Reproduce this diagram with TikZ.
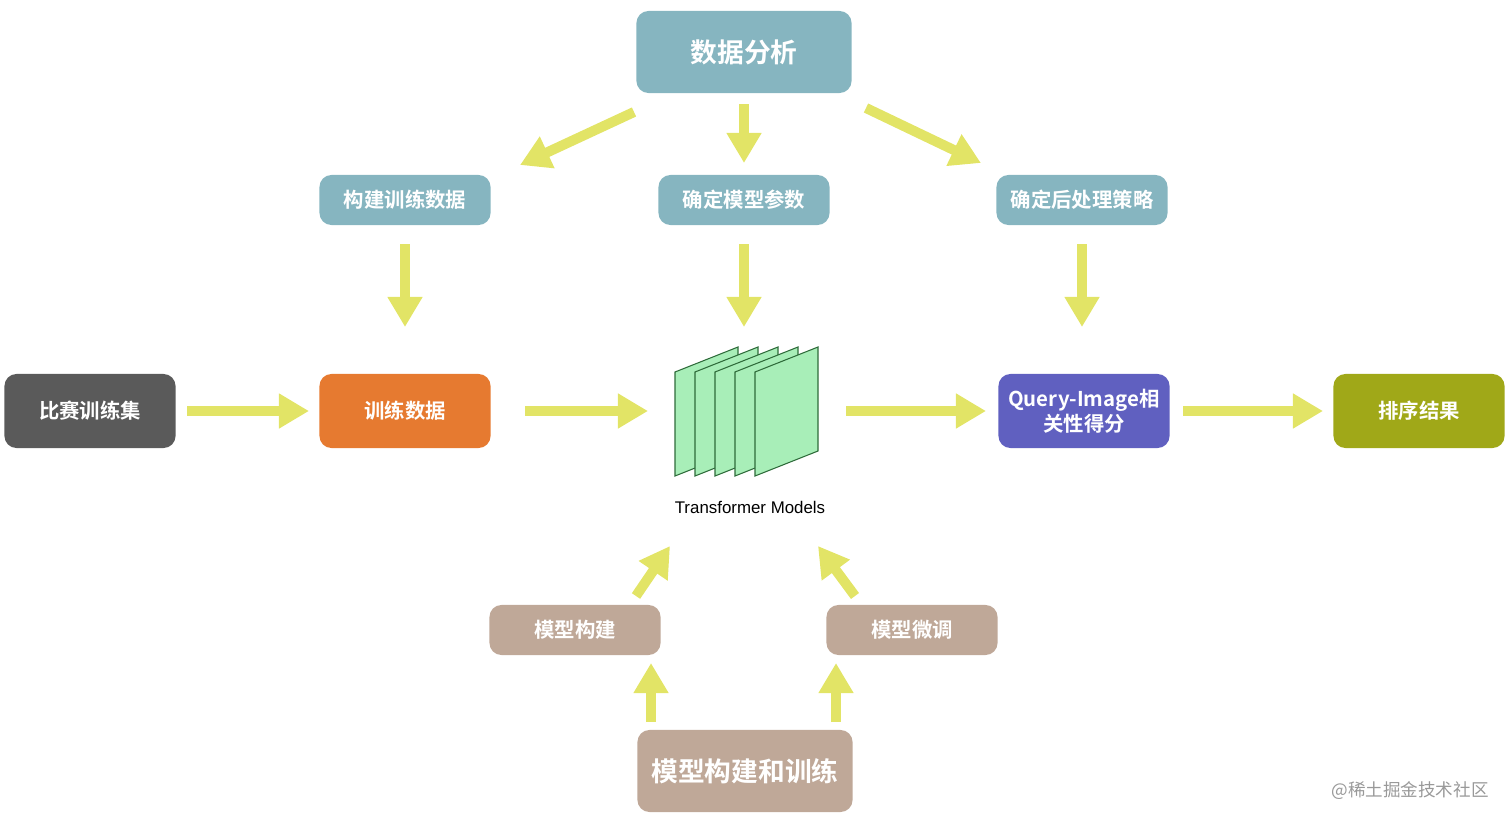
\documentclass[tikz,border=0pt]{standalone}
\usepackage{fontspec}
\setmainfont{Liberation Sans}
\newfontfamily\cjk{Noto Sans CJK SC}[BoldFont={Noto Sans CJK SC Bold}]
\usetikzlibrary{arrows.meta}
\definecolor{teal}{HTML}{86B5C0}
\definecolor{darkg}{HTML}{5A5A5A}
\definecolor{orng}{HTML}{E67A30}
\definecolor{purp}{HTML}{6060C0}
\definecolor{olive}{HTML}{A0A818}
\definecolor{tan}{HTML}{BFA898}
\definecolor{yel}{HTML}{E2E466}
\definecolor{sheet}{HTML}{A8EEB8}
\definecolor{sheetb}{HTML}{2E6B3A}
\tikzset{
  box/.style={rounded corners=1.2mm, text=white, font=\cjk\bfseries\fontsize{5.8}{7}\selectfont,
    minimum width=1.71cm, minimum height=0.5cm, align=center, inner sep=0pt},
  bigbox/.style={box, minimum width=2.15cm, minimum height=0.82cm, font=\cjk\bfseries\fontsize{7.6}{9}\selectfont},
  midbox/.style={box, minimum height=0.74cm},
  flow/.style={draw=yel, line width=0.1cm, -{Triangle[length=0.3cm,width=0.33cm]}}
}
\begin{document}
\begin{tikzpicture}[x=0.01cm,y=-0.01cm]
\useasboundingbox (0,0) rectangle (1512,824);
%boxes
\node[bigbox, fill=teal] (analyse) at (744,52) {数据分析};
\node[box, fill=teal] (build) at (405,200) {构建训练数据};
\node[box, fill=teal] (param) at (744,200) {确定模型参数};
\node[box, fill=teal] (post) at (1082,200) {确定后处理策略};
\node[midbox, fill=darkg] (comp) at (90,411) {比赛训练集};
\node[midbox, fill=orng] (train) at (405,411) {训练数据};
\node[midbox, fill=purp] (score) at (1084,411) {Query-Image相\\关性得分};
\node[midbox, fill=olive] (rank) at (1419,411) {排序结果};
\node[box, fill=tan] (mbuild) at (575,630) {模型构建};
\node[box, fill=tan] (mtune) at (912,630) {模型微调};
\node[bigbox, fill=tan] (mall) at (745,771) {模型构建和训练};
%model stack
\foreach \i in {0,...,4}
  \draw[sheetb, fill=sheet, line width=0.3pt] (675+20*\i,372) -- (738+20*\i,347) -- (738+20*\i,451) -- (675+20*\i,476) -- cycle;
\node[font=\fontsize{4.8}{6}\selectfont] (tm) at (750,507) {Transformer Models};
\node[text=gray!80, font=\cjk\fontsize{5}{6}\selectfont] (wm) at (1410,791) {@稀土掘金技术社区};
%arrows
\coordinate (a1) at (634,112); \coordinate (b1) at (520,165);
\coordinate (a2) at (744,104); \coordinate (b2) at (744,163);
\coordinate (a3) at (866,108); \coordinate (b3) at (981,163);
\draw[flow] (a1) -- (b1);
\draw[flow] (a2) -- (b2);
\draw[flow] (a3) -- (b3);
\foreach \x in {405,744,1082}
  \draw[flow] (\x,244) -- (\x,327);
\foreach \s/\e in {187/309,525/648,846/986,1183/1323}
  \draw[flow] (\s,411) -- (\e,411);
\draw[flow] (636,596) -- (670,546);
\draw[flow] (855,596) -- (818,546);
\draw[flow] (651,722) -- (651,663);
\draw[flow] (836,722) -- (836,663);
\end{tikzpicture}
\end{document}
